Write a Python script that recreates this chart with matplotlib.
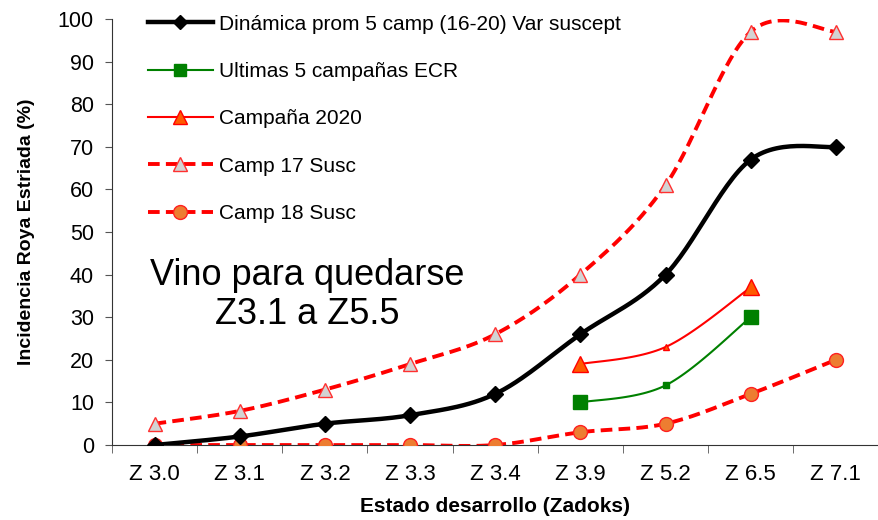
import numpy as np
import matplotlib
matplotlib.use("Agg")
import matplotlib.pyplot as plt
from matplotlib.lines import Line2D

plt.rcParams['font.family'] = ['Liberation Sans', 'DejaVu Sans']

stages = ["Z 3.0", "Z 3.1", "Z 3.2", "Z 3.3", "Z 3.4", "Z 3.9", "Z 5.2", "Z 6.5", "Z 7.1"]

dinamica = [0, 2, 5, 7, 12, 26, 40, 67, 70]
ultimas_x = [5, 6, 7]
ultimas = [10, 14, 30]
camp2020_x = [5, 6, 7]
camp2020 = [19, 23, 37]
camp17 = [5, 8, 13, 19, 26, 40, 61, 97, 97]
camp18 = [0, 0, 0, 0, 0, 3, 5, 12, 20]


def smooth(x, y, n=30):
    # excel-style smoothed line (catmull-rom bezier)
    x = np.asarray(x, float)
    y = np.asarray(y, float)
    pts = np.column_stack([x, y])
    out = []
    for i in range(len(pts) - 1):
        p0 = pts[i - 1] if i > 0 else pts[i]
        p1 = pts[i]
        p2 = pts[i + 1]
        p3 = pts[i + 2] if i + 2 < len(pts) else pts[i + 1]
        c1 = p1 + (p2 - p0) / 6
        c2 = p2 - (p3 - p1) / 6
        t = np.linspace(0, 1, n)[:, None]
        seg = ((1 - t) ** 3) * p1 + 3 * ((1 - t) ** 2) * t * c1 + 3 * (1 - t) * t ** 2 * c2 + t ** 3 * p2
        out.append(seg if i == 0 else seg[1:])
    out = np.vstack(out)
    return out[:, 0], out[:, 1]


fig = plt.figure(figsize=(8.79, 5.2), dpi=100)
ax = fig.add_axes([0.1274, 0.1442, 0.872, 0.8193])

xs = np.arange(len(stages))

# Camp 17 Susc
sx, sy = smooth(xs, camp17)
ax.plot(sx, sy, color='#FF0000', lw=2.8, dashes=(3, 1.6), zorder=2)
ax.plot(xs, camp17, ls='none', marker='^', ms=10, mfc='#D3D3D3', mec='#FF3030', mew=1, zorder=3)

# Camp 18 Susc
sx, sy = smooth(xs, camp18)
ax.plot(sx, sy, color='#FF0000', lw=2.8, dashes=(3, 1.6), zorder=2)
ax.plot(xs, camp18, ls='none', marker='o', ms=10, mfc='#ED7D31', mec='#FF2020', mew=1, zorder=3)

# Dinamica
sx, sy = smooth(xs, dinamica)
ax.plot(sx, sy, color='black', lw=3.2, zorder=4)
ax.plot(xs, dinamica, ls='none', marker='D', ms=8, mfc='black', mec='black', zorder=5)

# Campaña 2020
sx, sy = smooth(camp2020_x, camp2020)
ax.plot(sx, sy, color='#FF0000', lw=1.5, zorder=4)
for xi, yi, ms in zip(camp2020_x, camp2020, [11, 4, 11]):
    ax.plot(xi, yi, ls='none', marker='^', ms=ms, mfc='#FF5A00', mec='#FF0000', mew=1, zorder=5)

# Ultimas 5 campañas ECR
sx, sy = smooth(ultimas_x, ultimas)
ax.plot(sx, sy, color='#008000', lw=1.5, zorder=4)
for xi, yi, ms in zip(ultimas_x, ultimas, [10, 4, 10]):
    ax.plot(xi, yi, ls='none', marker='s', ms=ms, mfc='#008000', mec='#008000', zorder=5)

ax.set_xlim(-0.5, len(stages) - 0.5)
ax.set_ylim(0, 100)
ax.set_yticks(range(0, 101, 10))
ax.set_xticks(xs)
ax.set_xticklabels(stages)
ax.set_xticks(np.arange(-0.5, len(stages), 1), minor=True)
ax.tick_params(axis='x', which='major', length=0, pad=14, labelsize=16)
ax.tick_params(axis='x', which='minor', length=6, direction='out', color='#555555')
ax.tick_params(axis='y', length=5, direction='out', labelsize=15.5, pad=8, color='#555555')
for s in ['top', 'right']:
    ax.spines[s].set_visible(False)
ax.spines['left'].set_color('#333333')
ax.spines['bottom'].set_color('#333333')

ax.set_xlabel('Estado desarrollo (Zadoks)', fontsize=15, fontweight='bold')
ax.set_ylabel('Incidencia Roya Estriada (%)', fontsize=14, fontweight='bold')
ax.xaxis.set_label_coords(0.5, -0.122)
ax.yaxis.set_label_coords(-0.1, 0.5)

ax.text(1.79, 35.2, 'Vino para quedarse\nZ3.1 a Z5.5', fontsize=26, ha='center', va='center',
        linespacing=1.12)

handles = [
    Line2D([], [], color='black', lw=3.2, marker='D', ms=7, mfc='black'),
    Line2D([], [], color='#008000', lw=1.5, marker='s', ms=9, mfc='#008000', mec='#008000'),
    Line2D([], [], color='#FF0000', lw=1.5, marker='^', ms=10, mfc='#FF5A00', mec='#FF0000'),
    Line2D([], [], color='#FF0000', lw=2.8, dashes=(3, 1.6), marker='^', ms=10, mfc='#D3D3D3', mec='#FF3030'),
    Line2D([], [], color='#FF0000', lw=2.8, dashes=(3, 1.6), marker='o', ms=10, mfc='#ED7D31', mec='#FF2020'),
]
labels = ['Dinámica prom 5 camp (16-20) Var suscept', 'Ultimas 5 campañas ECR', 'Campaña 2020',
          'Camp 17 Susc', 'Camp 18 Susc']
ax.legend(handles, labels, loc='upper left', bbox_to_anchor=(0.047, 1.010), frameon=False,
          fontsize=15, handlelength=3.1, handletextpad=0.3, labelspacing=1.36,
          borderpad=0, borderaxespad=0)

fig.savefig('out.png', dpi=100)
